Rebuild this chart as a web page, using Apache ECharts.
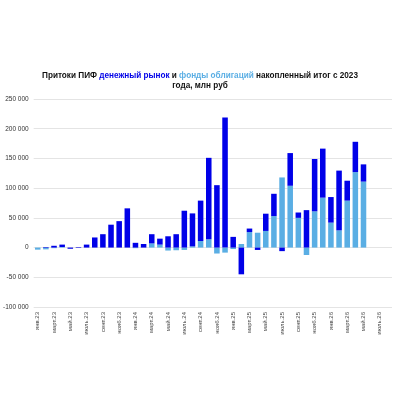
<!DOCTYPE html>
<html>
<head>
<meta charset="utf-8">
<script src="https://cdn.jsdelivr.net/npm/echarts@6/dist/echarts.min.js"></script>
<style>
  html, body { margin: 0; padding: 0; background: #fff; }
  #chart { width: 400px; height: 400px; }
</style>
</head>
<body>
<div id="chart"></div>
<script>
var monthNames = ['янв', 'февр', 'март', 'апр', 'май', 'июнь', 'июль', 'авг', 'сент', 'окт', 'нояб', 'дек'];
var years = ['23', '24', '25', '26'];
var lastMonthIndex = 7; // авг.26 - axis runs past the data

// фонды облигаций, накопленный итог, млн руб
var bondFunds = [
    -3500, -3000, -1000, 1000, 0, 0, 0, 0, 0, 0, 0, 0,
    -1000, 0, 7000, 5000, -5000, -4500, -4000, 2000, 11000, 14000, -10000, -8500,
    -2500, 6000, 26000, 25000, 28000, 53000, 118000, 104000, 50000, -12500, 61000, 84000,
    42000, 29000, 79000, 127000, 111000
];
// денежный рынок, накопленный итог, млн руб
var moneyMarket = [
    0, 1000, 3000, 4000, -2000, 1000, 5000, 17000, 22500, 38500, 44500, 66000,
    8000, 6000, 15500, 10000, 19000, 22500, 62000, 55500, 68000, 137000, 105000, 219000,
    18000, -45000, 6000, -4000, 29000, 37500, -6000, 55000, 9000, 63000, 88000, 82500,
    43000, 100500, 33500, 51000, 29000
];

var categories = [];
years.forEach(function (y, yi) {
    monthNames.forEach(function (m, mi) {
        if (yi === years.length - 1 && mi > lastMonthIndex) return;
        categories.push(m + '.' + y);
    });
});

var darkBlue = '#0000e8';
var lightBlue = '#5aaee4';

function fmt(v) {
    return String(v).replace(/\B(?=(\d{3})+(?!\d))/g, ' ');
}

var chart = echarts.init(document.getElementById('chart'));
chart.setOption({
    animation: false,
    textStyle: {fontFamily: 'Liberation Sans, Arial, sans-serif'},
    title: {
        left: 'center',
        top: 70,
        padding: 0,
        text: '{b|Притоки ПИФ }{d|денежный рынок}{b| и }{l|фонды облигаций}{b| накопленный итог с 2023}\n{b|года, млн руб}',
        textStyle: {
            rich: {
                b: {fontSize: 8.2, fontWeight: 'bold', color: '#111', lineHeight: 10.5},
                d: {fontSize: 8.2, fontWeight: 'bold', color: darkBlue, lineHeight: 10.5},
                l: {fontSize: 8.2, fontWeight: 'bold', color: lightBlue, lineHeight: 10.5}
            }
        }
    },
    grid: {left: 28, right: 8, top: 99, bottom: 93, containLabel: false},
    xAxis: {
        type: 'category',
        data: categories,
        axisLine: {show: false},
        axisTick: {show: false},
        axisLabel: {
            interval: 1,
            rotate: 90,
            fontSize: 6,
            color: '#444',
            margin: 5
        }
    },
    yAxis: {
        type: 'value',
        min: -100000,
        max: 250000,
        interval: 50000,
        axisLine: {show: false},
        axisTick: {show: false},
        axisLabel: {
            fontSize: 6.5,
            color: '#333',
            margin: 5,
            formatter: fmt
        },
        splitLine: {lineStyle: {color: '#e4e4e4', width: 1}}
    },
    series: [
        {
            name: 'фонды облигаций',
            type: 'bar',
            stack: 'total',
            barWidth: '68%',
            itemStyle: {color: lightBlue},
            data: bondFunds
        },
        {
            name: 'денежный рынок',
            type: 'bar',
            stack: 'total',
            barWidth: '68%',
            itemStyle: {color: darkBlue},
            data: moneyMarket
        }
    ]
});
</script>
</body>
</html>
